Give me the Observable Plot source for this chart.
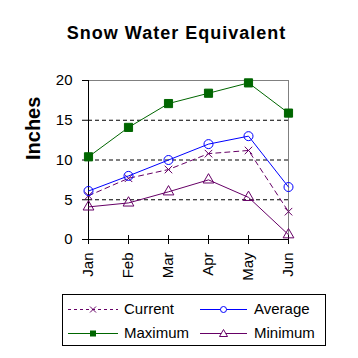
<!DOCTYPE html>
<html>
<head>
<meta charset="utf-8">
<script src="https://cdn.jsdelivr.net/npm/d3@7"></script>
<script src="https://cdn.jsdelivr.net/npm/@observablehq/plot@0.6"></script>
<style>
  html, body { margin: 0; padding: 0; background: #fff; }
  body { width: 358px; height: 358px; overflow: hidden; font-family: "Liberation Sans", Arial, sans-serif; }
  #title { height: 58px; box-sizing: border-box; padding-top: 23px; line-height: 20px; width: 353px; text-align: center;
           font-weight: bold; font-size: 18px; letter-spacing: 1px; color: #000; }
  #chart svg { display: block; }
  #legend { position: relative; margin-left: 62px; margin-top: 4px; width: 264px; height: 52px; box-sizing: border-box;
            border: 1px solid #000; }
  #legend svg { position: absolute; left: -1px; top: -1px; }
</style>
</head>
<body>
<div id="title">Snow Water Equivalent</div>
<div id="chart"></div>
<div id="legend"></div>
<script>
const months = ["Jan", "Feb", "Mar", "Apr", "May", "Jun"];
const current = [5.5, 7.7, 8.8, 10.8, 11.2, 3.5];
const average = [6.1, 8.0, 10.0, 12.0, 13.0, 6.6];
const maximum = [10.4, 14.1, 17.1, 18.4, 19.7, 15.9];
const minimum = [4.1, 4.6, 6.0, 7.5, 5.3, 0.6];
const yTicks = [0, 5, 10, 15, 20];
const gridTicks = [5, 10, 15];
const seriesNames = ["Current", "Average", "Maximum", "Minimum"];

const purple = "#660066", blue = "#0000ff", green = "#006600";

const rows = (vals) => months.map((m, i) => ({month: m, value: vals[i]}));
const cur = rows(current), avg = rows(average), max = rows(maximum), min = rows(minimum);

const plot = Plot.plot({
  width: 358,
  height: 232,
  marginTop: 22,
  marginBottom: 51,
  marginLeft: 88,
  marginRight: 70,
  style: {fontFamily: "'Liberation Sans', Arial, sans-serif", fontSize: "15px", color: "#000", background: "#fff"},
  x: {type: "point", domain: months, padding: 0},
  y: {domain: [0, 20]},
  marks: [
    Plot.ruleY(gridTicks, {stroke: "#000", strokeDasharray: "4,3", strokeWidth: 1}),
    Plot.ruleY([20], {stroke: "#808080", strokeWidth: 1}),
    Plot.ruleX([months[months.length - 1]], {stroke: "#808080", strokeWidth: 1}),
    Plot.axisY({ticks: yTicks, tickSize: 6, tickPadding: 10, fontSize: 15, label: null, stroke: "#000"}),
    Plot.axisX({tickSize: 5, tickPadding: 8, tickRotate: -90, fontSize: 15, label: null, stroke: "#000"}),
    Plot.ruleX(months, {y1: 0, y2: 0.5, stroke: "#000"}),
    Plot.ruleX([months[0]], {stroke: "#000"}),
    Plot.ruleY([0], {stroke: "#000"}),
    // Current
    Plot.line(cur, {x: "month", y: "value", stroke: purple, strokeWidth: 1, strokeDasharray: "5,4"}),
    Plot.dot(cur, {x: "month", y: "value", symbol: "times", r: 3.5, stroke: purple, strokeWidth: 1}),
    // Average
    Plot.line(avg, {x: "month", y: "value", stroke: blue, strokeWidth: 1}),
    Plot.dot(avg, {x: "month", y: "value", symbol: "circle", r: 4.5, stroke: blue, fill: "none", strokeWidth: 1}),
    // Maximum
    Plot.line(max, {x: "month", y: "value", stroke: green, strokeWidth: 1}),
    Plot.dot(max, {x: "month", y: "value", symbol: "square", r: 4.6, fill: green, stroke: green, strokeWidth: 1}),
    // Minimum
    Plot.line(min, {x: "month", y: "value", stroke: purple, strokeWidth: 1}),
    Plot.dot(min, {x: "month", y: "value", symbol: "triangle", r: 4, stroke: purple, fill: "none", strokeWidth: 1}),
    Plot.text(["Inches"], {frameAnchor: "left", rotate: -90, dx: -55, fontWeight: "bold", fontSize: 20, fill: "#000"})
  ]
});
document.getElementById("chart").appendChild(plot);

// Legend
const leg = d3.select("#legend").append("svg").attr("width", 264).attr("height", 52);
const items = [
  {name: seriesNames[0], x0: 6, x1: 56, tx: 62, y: 15, color: purple, dash: "3,3", sym: "x"},
  {name: seriesNames[1], x0: 138, x1: 185, tx: 192, y: 15, color: blue, dash: null, sym: "circle"},
  {name: seriesNames[2], x0: 6, x1: 56, tx: 62, y: 39, color: green, dash: null, sym: "square"},
  {name: seriesNames[3], x0: 138, x1: 185, tx: 192, y: 39, color: purple, dash: null, sym: "triangle"}
];
for (const it of items) {
  const g = leg.append("g");
  g.append("line").attr("x1", it.x0).attr("x2", it.x1).attr("y1", it.y + 0.5).attr("y2", it.y + 0.5)
    .attr("stroke", it.color).attr("stroke-width", 1).attr("stroke-dasharray", it.dash);
  const cx = (it.x0 + it.x1) / 2, cy = it.y + 0.5;
  if (it.sym === "x") {
    g.append("path").attr("d", `M${cx-3},${cy-3}L${cx+3},${cy+3}M${cx-3},${cy+3}L${cx+3},${cy-3}`).attr("stroke", it.color).attr("fill", "none");
  } else if (it.sym === "circle") {
    g.append("circle").attr("cx", cx).attr("cy", cy).attr("r", 3).attr("stroke", it.color).attr("fill", "#fff");
  } else if (it.sym === "square") {
    g.append("rect").attr("x", cx - 3).attr("y", cy - 3).attr("width", 6).attr("height", 6).attr("fill", it.color);
  } else {
    g.append("path").attr("d", `M${cx},${cy-4}L${cx+4},${cy+3}L${cx-4},${cy+3}Z`).attr("stroke", it.color).attr("fill", "#fff");
  }
  g.append("text").attr("x", it.tx).attr("y", it.y).attr("dy", "0.35em").attr("font-size", 15)
    .attr("font-family", "'Liberation Sans', Arial, sans-serif").attr("fill", "#000").text(it.name);
}
</script>
</body>
</html>
